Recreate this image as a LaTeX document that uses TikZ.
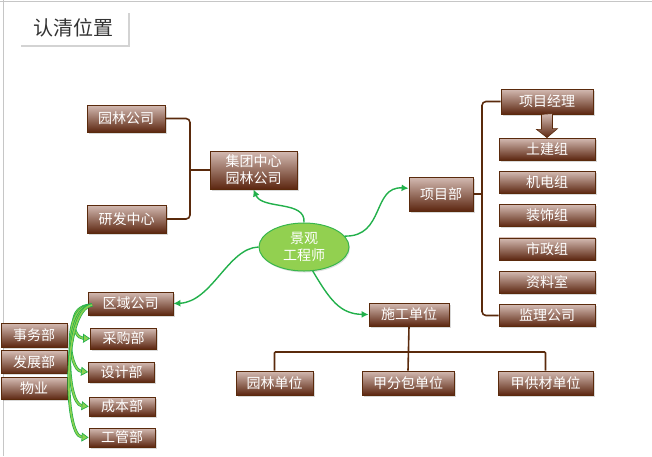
\documentclass[tikz,border=0pt]{standalone}
\usepackage{fontspec}
\setmainfont{Liberation Sans}
\newfontfamily\cjk{Noto Sans CJK SC}
\usepackage{tikz}
\usetikzlibrary{arrows.meta,positioning,calc,shadows,shapes.geometric}
\definecolor{boxtop}{HTML}{D4BBB3}
\definecolor{boxbot}{HTML}{5C2610}
\definecolor{boxline}{HTML}{5A2A0C}
\definecolor{linkgreen}{HTML}{22B04B}
\definecolor{bubble}{HTML}{92D050}
\definecolor{leafgreen}{HTML}{8CD050}
\tikzset{
  >={Latex[length=2mm]},
  unit/.style={draw=boxline, line width=0.8pt, top color=boxtop, bottom color=boxbot, text=white, inner sep=0pt, align=center,
    font=\cjk\fontsize{14}{17}\selectfont, drop shadow={opacity=0.3, shadow xshift=1.5pt, shadow yshift=-1.5pt}},
  colbox/.style={unit, minimum width=96pt, minimum height=22pt},
  subbox/.style={unit, minimum width=66pt, minimum height=20pt},
  sidebox/.style={unit, minimum width=66pt, minimum height=23pt},
  bubblenode/.style={ellipse, draw=linkgreen!80!bubble, line width=1pt, fill=bubble, text=white, align=center, inner sep=0pt,
    minimum width=90pt, minimum height=48pt, font=\cjk\fontsize{14}{17}\selectfont, drop shadow={opacity=0.25, shadow xshift=1pt, shadow yshift=-1.5pt}},
  titlebox/.style={fill=white, minimum width=109pt, minimum height=34pt, font=\cjk\fontsize{20}{24}\selectfont, text=black!80,
    drop shadow={opacity=0.35, shadow xshift=1.5pt, shadow yshift=-2pt}},
  bracket/.style={draw=boxline, line width=1.6pt, rounded corners=4pt},
  link/.style={draw=linkgreen, line width=1.4pt, -{Latex[length=7pt,width=7pt]}},
  leaf/.style={draw=linkgreen, line width=0.7pt, double=leafgreen, double distance=1.6pt, -{Triangle[length=7pt,width=9pt,fill=leafgreen]}},
}
\begin{document}
\begin{tikzpicture}[x=1pt, y=-1pt, node distance=10.5pt]
  \useasboundingbox (0,0) rectangle (652,456);
  \draw[gray!45, line width=1pt] (0,1) -- (652,1);
  \draw[gray!45, line width=0.8pt] (3,0) -- (3,456);

  \node[titlebox] (title) at (73.5,28) {认清位置};

  % upper left
  \node[unit, minimum width=78pt, minimum height=27pt] (yuanlin) at (126,118.5) {园林公司};
  \node[unit, minimum width=79pt, minimum height=28pt] (yanfa) at (126.5,219) {研发中心};
  \node[unit, minimum width=87pt, minimum height=38pt] (jituan) at (253.5,170) {集团中心\\园林公司};
  \coordinate (lb) at (190,170);
  \draw[bracket] (yuanlin.east) -| (lb) |- (yanfa.east);
  \draw[bracket] (lb) -- (jituan.west);

  % centre
  \node[bubblenode] (engineer) at (304,247) {景观\\工程师};

  % right column
  \node[unit, minimum width=64pt, minimum height=34pt] (xiangmubu) at (441,194) {项目部};
  \node[unit, minimum width=92pt, minimum height=25pt] (jingli) at (547,101.5) {项目经理};
  \node[colbox] (tujian) at (547,149) {土建组};
  \node[colbox, below=of tujian] (jidian) {机电组};
  \node[colbox, below=of jidian] (zhuangshi) {装饰组};
  \node[colbox, below=of zhuangshi] (shizheng) {市政组};
  \node[colbox, below=of shizheng] (ziliao) {资料室};
  \node[colbox, below=of ziliao] (jianli) {监理公司};
  \coordinate (rb) at (482,194);
  \draw[bracket] (jingli.west) -| (rb) |- (jianli.west);
  \draw[bracket] (xiangmubu.east) -- (rb);
  \path[draw=boxline, line width=0.6pt, top color=boxtop, bottom color=boxbot]
    ($(jingli.south)+(-5.5,0)$) -- ++(0,15) -- ++(-5,0) -- (tujian.north) -- ++(10.5,-9) -- ++(-5,0) -- ++(0,-15) -- cycle;

  % bottom
  \node[unit, minimum width=80pt, minimum height=23pt] (shigong) at (409,314.5) {施工单位};
  \node[unit, minimum width=77pt, minimum height=24pt] (yuanlindw) at (274.5,383) {园林单位};
  \node[unit, minimum width=92pt, minimum height=24pt] (fenbao) at (408,383) {甲分包单位};
  \node[unit, minimum width=95pt, minimum height=24pt] (gongcai) at (545.5,383) {甲供材单位};
  \coordinate (bt) at (409,352);
  \draw[bracket, rounded corners=1pt] (shigong.south) -- (fenbao.north);
  \draw[bracket, rounded corners=1pt] (yuanlindw.north) |- (bt) -| (gongcai.north);

  % lower left
  \node[unit, minimum width=85pt, minimum height=23pt] (quyu) at (130.5,303.5) {区域公司};
  \node[subbox, minimum height=21pt] (caigou) at (123.5,338.5) {采购部};
  \node[subbox] (sheji) at (121.5,372) {设计部};
  \node[subbox, minimum height=19pt] (chengben) at (122,406.5) {成本部};
  \node[subbox, minimum height=19pt] (gongguan) at (122,437.5) {工管部};
  \node[sidebox, minimum height=24pt] (shiwu) at (34,335) {事务部};
  \node[sidebox, below=3pt of shiwu] (fazhan) {发展部};
  \node[sidebox, minimum height=22pt, below=3pt of fazhan] (wuye) {物业};
  \coordinate (qs) at (92,305);
  \draw[leaf] (qs) .. controls (66,305) and (72,338) .. (caigou.west);
  \draw[leaf] (qs) .. controls (62,306) and (68,370) .. (sheji.west);
  \draw[leaf] (qs) .. controls (62,308) and (66,404) .. (chengben.west);
  \draw[leaf] (qs) .. controls (62,310) and (64,436) .. (gongguan.west);

  % links from the engineer
  \draw[link] (engineer.north) .. controls (306,200) and (262,210) .. (jituan.south);
  \draw[link] (engineer.15) .. controls (385,237) and (372,186) .. (xiangmubu.170);
  \draw[link] (engineer.-70) .. controls (330,300) and (340,314) .. (shigong.west);
  \draw[link] (engineer.west) .. controls (228,248) and (212,302) .. (quyu.east);
\end{tikzpicture}
\end{document}
